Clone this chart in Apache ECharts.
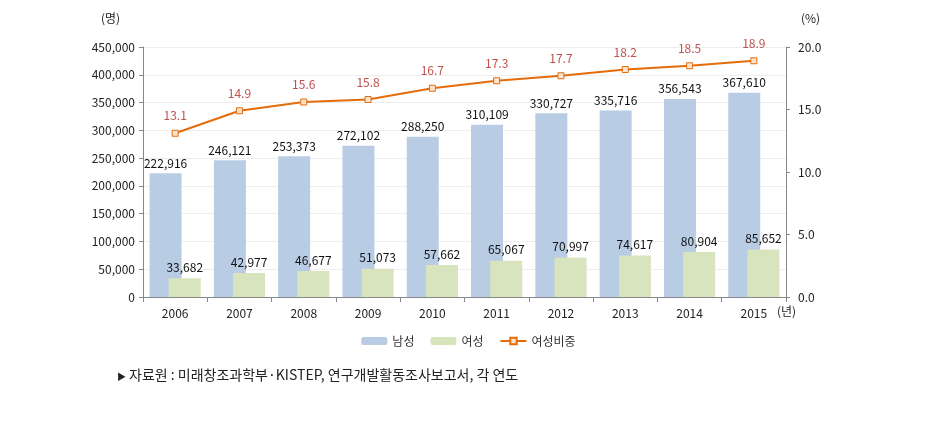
<!DOCTYPE html>
<html><head><meta charset="utf-8">
<script src="https://cdn.jsdelivr.net/npm/echarts@6/dist/echarts.min.js"></script>
<style>html,body{margin:0;padding:0;background:#fff}#c{width:937px;height:425px}</style>
</head><body><div id="c"></div>
<script>
const years = ['2006','2007','2008','2009','2010','2011','2012','2013','2014','2015'];
const male = [222916,246121,253373,272102,288250,310109,330727,335716,356543,367610];
const female = [33682,42977,46677,51073,57662,65067,70997,74617,80904,85652];
const ratio = [13.1,14.9,15.6,15.8,16.7,17.3,17.7,18.2,18.5,18.9];
const seriesNames = ['남성','여성','여성비중'];
const font = '"Noto Sans CJK KR", sans-serif';
const chart = echarts.init(document.getElementById('c'));
const fmt = v => v.toLocaleString('en-US');
chart.setOption({
  animation:false,
  textStyle:{fontFamily:font},
  grid:{left:143,right:151,top:47,bottom:128},
  legend:{data:seriesNames,bottom:73,left:'center',itemWidth:26,itemHeight:8,itemGap:16,
    textStyle:{fontFamily:font,fontSize:12,color:'#333'}},
  xAxis:{type:'category',data:years,
    axisLine:{lineStyle:{color:'#888'}},
    axisTick:{show:true,alignWithLabel:false,length:5,lineStyle:{color:'#888'}},
    axisLabel:{color:'#222',fontSize:12,margin:10,fontFamily:font}},
  yAxis:[
    {type:'value',min:0,max:450000,interval:50000,
     axisLine:{show:true,lineStyle:{color:'#888'}},
     axisTick:{show:true,length:4,lineStyle:{color:'#888'}},
     splitLine:{lineStyle:{color:'#eeeeee'}},
     axisLabel:{color:'#222',fontSize:12,formatter:v=>fmt(v),margin:8,fontFamily:font}},
    {type:'value',min:0,max:20,interval:5,
     axisLine:{show:true,lineStyle:{color:'#888'}},
     axisTick:{show:true,length:4,lineStyle:{color:'#888'}},
     splitLine:{show:false},
     axisLabel:{color:'#222',fontSize:12,formatter:v=>v.toFixed(1),margin:12,fontFamily:font}}
  ],
  series:[
    {name:seriesNames[0],type:'bar',data:male,barWidth:32,barGap:'-40%',
     itemStyle:{color:'#B8CCE4'},
     label:{show:true,position:'top',color:'#111',fontSize:12,formatter:p=>fmt(p.value),distance:4,fontFamily:font}},
    {name:seriesNames[1],type:'bar',data:female,barWidth:32,
     itemStyle:{color:'#D7E4BD'},
     label:{show:true,position:'top',color:'#111',fontSize:12,formatter:p=>fmt(p.value),distance:5,fontFamily:font}},
    {name:seriesNames[2],type:'line',yAxisIndex:1,data:ratio,
     symbol:'rect',symbolSize:6,
     lineStyle:{color:'#E46C0A',width:2},
     itemStyle:{color:'#FCE4D0',borderColor:'#E46C0A',borderWidth:1},
     label:{show:true,position:'top',color:'#C0504D',fontSize:12,distance:8,formatter:p=>p.value.toFixed(1),fontFamily:font}}
  ],
  graphic:[
    {type:'text',left:101,top:12,style:{text:'(명)',font:'12px '+font,fill:'#222'}},
    {type:'text',left:801,top:12,style:{text:'(%)',font:'12px '+font,fill:'#222'}},
    {type:'text',left:777,top:305,style:{text:'(년)',font:'12px '+font,fill:'#222'}},
    {type:'text',left:117,top:372,style:{text:'▶',font:'9px '+font,fill:'#222'}},
    {type:'text',left:129,top:368,style:{text:'자료원 : 미래창조과학부·KISTEP, 연구개발활동조사보고서, 각 연도',font:'14px '+font,fill:'#222'}}
  ]
});
</script></body></html>
